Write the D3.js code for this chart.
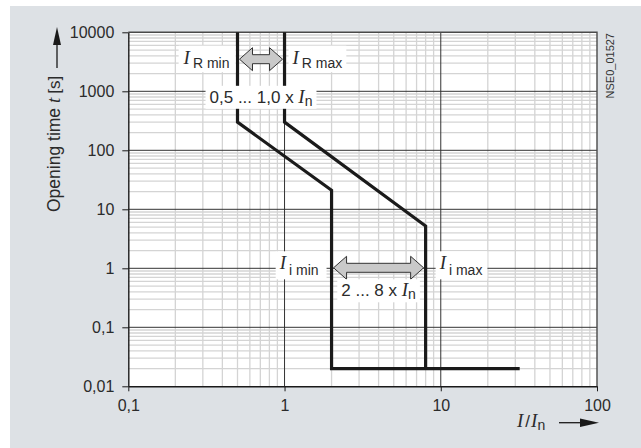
<!DOCTYPE html>
<html>
<head>
<meta charset="utf-8">
<script src="https://cdn.jsdelivr.net/npm/d3@7"></script>
<style>
  body { margin: 0; background: #fff; }
  svg { display: block; }
</style>
</head>
<body>
<svg id="chart"></svg>
<script>
// axis ticks
const xTicks = [0.1, 1, 10, 100];
const xLabels = ['0,1', '1', '10', '100'];
const yTicks = [0.01, 0.1, 1, 10, 100, 1000, 10000];
const yLabels = ['0,01', '0,1', '1', '10', '100', '1000', '10000'];

// lower band: I_R min = 0,5 x In, I_i min = 2 x In
const minCurrent = [0.5, 0.5, 2, 2, 32];
const minTime = [10000, 300, 21, 0.02, 0.02];
// upper band: I_R max = 1,0 x In, I_i max = 8 x In
const maxCurrent = [1, 1, 8, 8];
const maxTime = [10000, 300, 5.2, 0.02];

// setting ranges shown with the double arrows
const rRange = [0.5, 1];
const iRange = [2, 8];
const rArrowTime = 3500;
const iArrowTime = 1;

const SANS = '"Liberation Sans", Arial, Helvetica, sans-serif';
const SERIF = '"Liberation Serif", "Times New Roman", serif';
const INK = '#2b2b2b';

let w = 641;
let h = 448;
// plot area edges
let pL = 128.3, pR = 597, pT = 32.3, pB = 386.3;

let svg = d3.select('#chart').attr('width', w).attr('height', h);

let x = d3.scaleLog().domain([0.1, 100]).range([pL, pR]);
let y = d3.scaleLog().domain([0.01, 10000]).range([pB, pT]);

// grey panel + white plot area
svg.append('rect').attr('x', 10).attr('y', 6).attr('width', w - 10).attr('height', h - 6).attr('fill', '#dde1e5');
svg.append('rect').attr('x', pL).attr('y', pT).attr('width', pR - pL).attr('height', pB - pT).attr('fill', '#fff');

// minor grid (2..9 of every decade)
let isMajor = d => Math.abs(Math.log10(d) - Math.round(Math.log10(d))) < 1e-9;
let grid = svg.append('g');
grid.selectAll('.vmin').data(x.ticks().filter(d => !isMajor(d))).enter().append('line')
  .attr('x1', d => x(d)).attr('x2', d => x(d)).attr('y1', pT).attr('y2', pB)
  .attr('stroke', '#d4d4d4').attr('stroke-width', 1.3);
grid.selectAll('.hmin').data(y.ticks().filter(d => !isMajor(d))).enter().append('line')
  .attr('y1', d => y(d)).attr('y2', d => y(d)).attr('x1', pL).attr('x2', pR)
  .attr('stroke', '#d4d4d4').attr('stroke-width', 1.3);

// decade lines
grid.selectAll('.vmaj').data(xTicks.slice(1, -1)).enter().append('line')
  .attr('x1', d => x(d)).attr('x2', d => x(d)).attr('y1', pT).attr('y2', pB)
  .attr('stroke', '#333').attr('stroke-width', 1);
grid.selectAll('.hmaj').data(yTicks.slice(1, -1)).enter().append('line')
  .attr('y1', d => y(d)).attr('y2', d => y(d)).attr('x1', pL).attr('x2', pR)
  .attr('stroke', '#333').attr('stroke-width', 1);

// top and right frame
svg.append('path')
  .attr('d', `M${pL},${pT}H${pR}V${pB}`)
  .attr('fill', 'none').attr('stroke', '#4a4a4a').attr('stroke-width', 1.4);

// axes
let yAxis = d3.axisLeft(y).tickValues(yTicks).tickFormat((d, i) => yLabels[i])
  .tickSize(6).tickSizeOuter(0).tickPadding(8);
let gy = svg.append('g').attr('transform', `translate(${pL},0)`).call(yAxis)
  .attr('font-size', 16).attr('font-family', SANS).style('color', '#1a1a1a');
gy.selectAll('text').attr('fill', INK);
gy.select('.domain').attr('stroke-width', 1.4);

let xAxis = d3.axisBottom(x).tickValues(xTicks).tickFormat((d, i) => xLabels[i])
  .tickSize(5).tickSizeOuter(0).tickPadding(8);
let gx = svg.append('g').attr('transform', `translate(0,${pB})`).call(xAxis)
  .attr('font-size', 16).attr('font-family', SANS).style('color', '#1a1a1a');
gx.selectAll('text').attr('fill', INK);
gx.select('.domain').attr('stroke-width', 1.4);

// characteristic curves
let line = d3.line().x(d => x(d[0])).y(d => y(d[1]));
[[minCurrent, minTime], [maxCurrent, maxTime]].forEach(([c, t]) => {
  svg.append('path')
    .datum(d3.zip(c, t))
    .attr('d', line)
    .attr('fill', 'none')
    .attr('stroke', '#1a1a1a')
    .attr('stroke-width', 3.2)
    .attr('stroke-linejoin', 'miter');
});

// label with white box; parts = [[text, font, size, dx, dy], ...]
let label = (px, py, anchor, parts, pad) => {
  let g = svg.append('g');
  let txt = g.append('text').attr('x', px).attr('y', py).attr('text-anchor', anchor).attr('fill', INK);
  parts.forEach(p => {
    txt.append('tspan')
      .attr('font-family', p[1] === 'i' ? SERIF : SANS)
      .attr('font-style', p[1] === 'i' ? 'italic' : 'normal')
      .attr('font-size', p[2])
      .attr('dx', p[3] || 0)
      .attr('dy', p[4] || 0)
      .text(p[0]);
  });
  let b = txt.node().getBBox();
  g.insert('rect', 'text')
    .attr('x', b.x - pad[0]).attr('y', b.y - pad[1])
    .attr('width', b.width + pad[0] + pad[2]).attr('height', b.height + pad[1] + pad[3])
    .attr('fill', '#fff');
};

// double arrow between two currents
let dblArrow = (a, b, yc) => {
  let x1 = x(a) + 2, x2 = x(b) - 2, hl = 13, hh = 11.5, sh = 4.5;
  let pts = [[x1, yc], [x1 + hl, yc - hh], [x1 + hl, yc - sh], [x2 - hl, yc - sh], [x2 - hl, yc - hh],
             [x2, yc], [x2 - hl, yc + hh], [x2 - hl, yc + sh], [x1 + hl, yc + sh], [x1 + hl, yc + hh]];
  svg.append('polygon')
    .attr('points', pts.map(p => p.join(',')).join(' '))
    .attr('fill', '#c9c9c9').attr('stroke', '#333').attr('stroke-width', 1)
    .attr('stroke-linejoin', 'miter');
};

let ra = y(rArrowTime);
let ia = y(iArrowTime) - 0.5;

dblArrow(rRange[0], rRange[1], ra);
label(x(rRange[0]) - 8, ra + 4.5, 'end', [['I', 'i', 19], ['R min', 's', 14, 3, 4.5]], [4, 1, 6, 1]);
label(x(rRange[1]) + 8, ra + 4.5, 'start', [['I', 'i', 19], ['R max', 's', 14, 3, 4.5]], [3, 1, 4, 1]);
label((x(rRange[0]) + x(rRange[1])) / 2, y(1000) + 11.5, 'middle',
  [['0,5 ... 1,0 x ', 's', 17], ['I', 'i', 19], ['n', 's', 14, 0, 3]], [4, 0, 4, 0]);

dblArrow(iRange[0], iRange[1], ia);
label(x(iRange[0]) - 13, ia + 1.5, 'end', [['I', 'i', 19], ['i min', 's', 14, 3, 6]], [3, 1, 8, 1]);
label(x(iRange[1]) + 14, ia + 1.5, 'start', [['I', 'i', 19], ['i max', 's', 14, 3, 6]], [3, 1, 5, 1]);
label((x(iRange[0]) + x(iRange[1])) / 2, ia + 28.5, 'middle',
  [['2 ... 8 x ', 's', 17], ['I', 'i', 19], ['n', 's', 14, 0, 3]], [4, 0, 4, 0]);

// y title with arrow
let yt = svg.append('text').attr('transform', 'translate(60,212) rotate(-90)').attr('fill', INK);
yt.append('tspan').attr('font-family', SANS).attr('font-size', 17.5).text('Opening time');
yt.append('tspan').attr('font-family', SERIF).attr('font-style', 'italic').attr('font-size', 19).attr('dx', 5).text('t');
yt.append('tspan').attr('font-family', SANS).attr('font-size', 17).attr('dx', 4).text('[s]');
svg.append('line').attr('x1', 57).attr('x2', 57).attr('y1', 68).attr('y2', 42)
  .attr('stroke', '#1a1a1a').attr('stroke-width', 1.3);
svg.append('polygon').attr('points', '53,45 57,27 61,45').attr('fill', '#1a1a1a');

// x title with arrow
let xt = svg.append('text').attr('x', 517).attr('y', 427).attr('fill', INK);
xt.append('tspan').attr('font-family', SERIF).attr('font-style', 'italic').attr('font-size', 19).text('I');
xt.append('tspan').attr('font-family', SANS).attr('font-size', 17).attr('dx', 2).text('/');
xt.append('tspan').attr('font-family', SERIF).attr('font-style', 'italic').attr('font-size', 19).attr('dx', 1).text('I');
xt.append('tspan').attr('font-family', SANS).attr('font-size', 14).attr('dy', 3).text('n');
svg.append('line').attr('x1', 559).attr('x2', 584).attr('y1', 422.7).attr('y2', 422.7)
  .attr('stroke', '#1a1a1a').attr('stroke-width', 1.3);
svg.append('polygon').attr('points', '580,418.5 599,422.7 580,427').attr('fill', '#1a1a1a');

// drawing number
svg.append('text').attr('transform', 'translate(613.5,33) rotate(-90)')
  .attr('text-anchor', 'end').attr('font-family', SANS).attr('font-size', 11)
  .attr('fill', '#333').text('NSE0_01527');
</script>
</body>
</html>
